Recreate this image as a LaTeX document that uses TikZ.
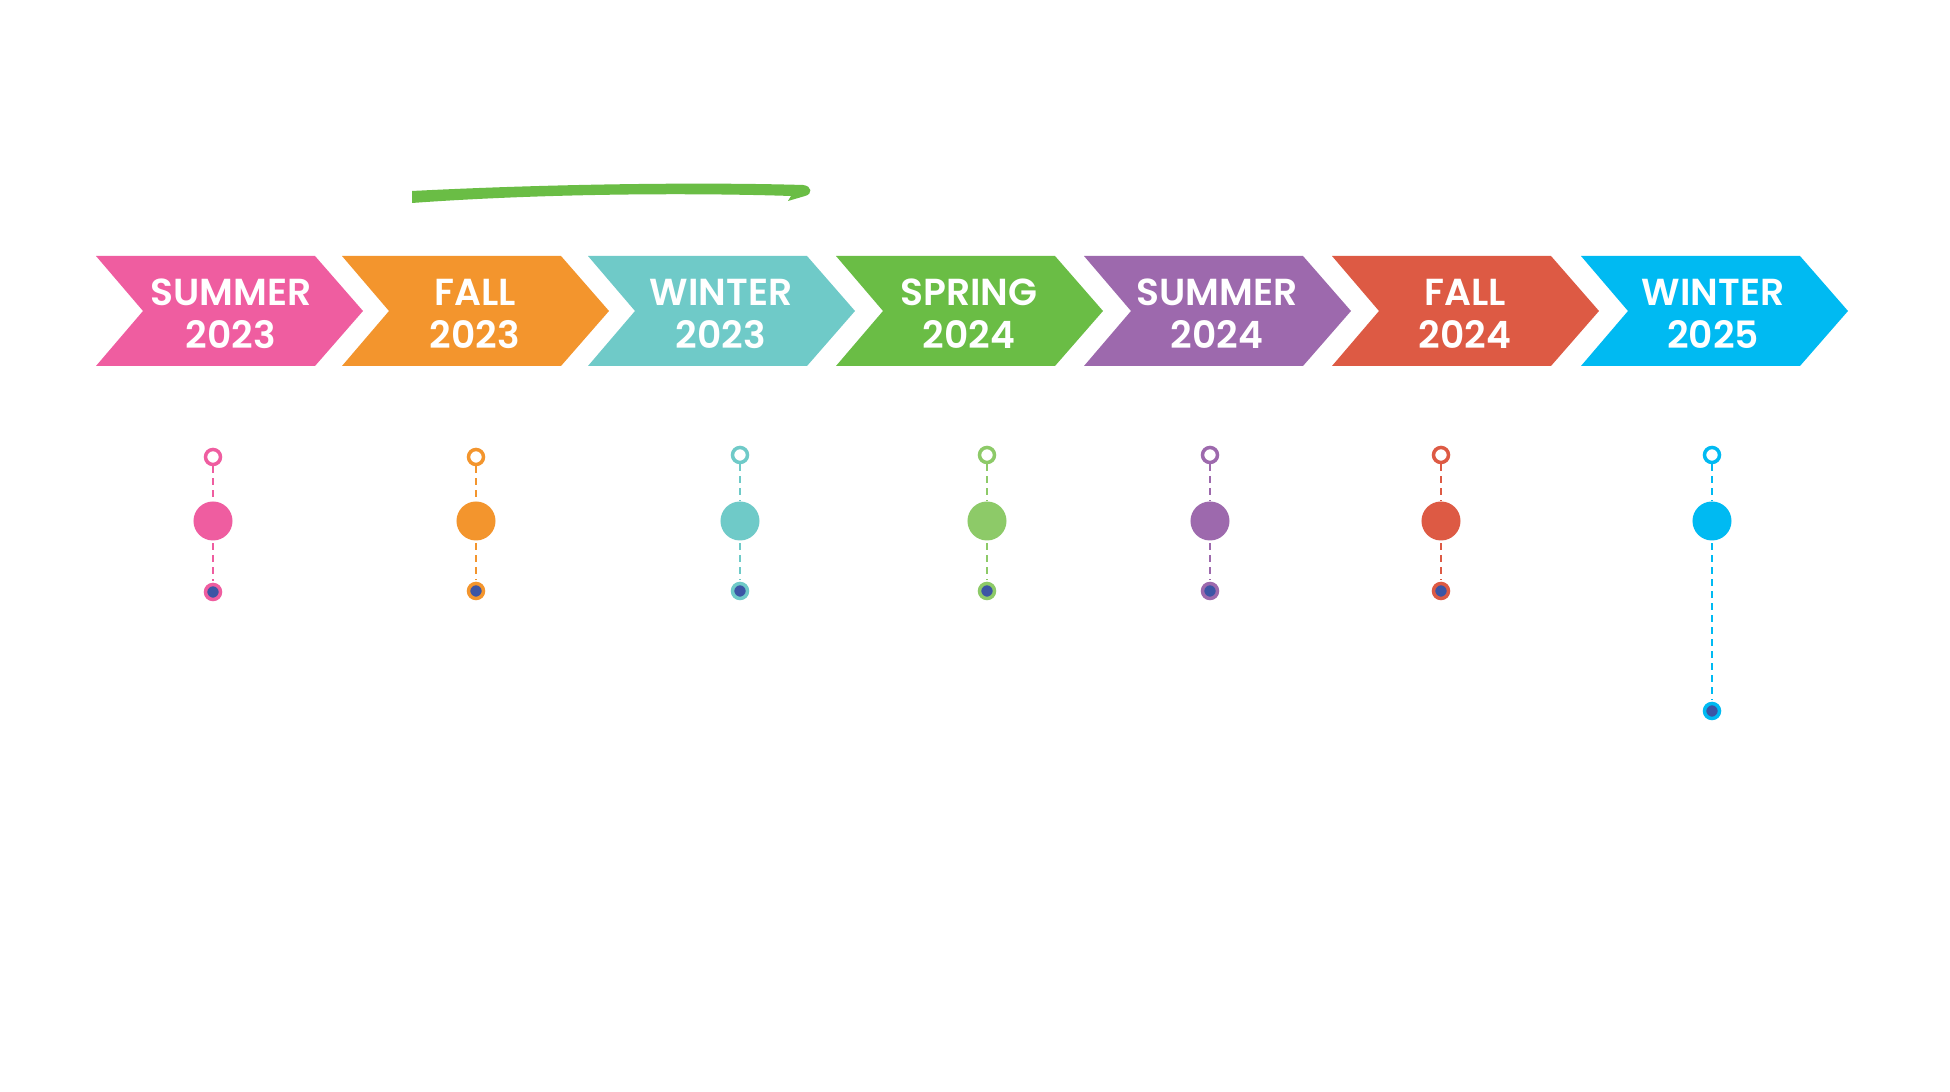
\documentclass[tikz,border=0pt]{standalone}
\usepackage{fontspec}
\IfFontExistsTF{Poppins SemiBold}
  {\setmainfont{Poppins}[BoldFont={Poppins SemiBold}]}
  {\setmainfont{Poppins}}

\definecolor{pinkc}{HTML}{EF5DA0}
\definecolor{orangec}{HTML}{F3952D}
\definecolor{tealc}{HTML}{6FCAC8}
\definecolor{greenc}{HTML}{6ABD45}
\definecolor{greenl}{HTML}{8DCA68}
\definecolor{purplec}{HTML}{9D69AD}
\definecolor{redc}{HTML}{DD5A44}
\definecolor{bluec}{HTML}{00BAF2}
\definecolor{dotblue}{HTML}{3C55A5}

\begin{document}
\begin{tikzpicture}[x=0.01cm,y=-0.01cm,
  season/.style={font=\bfseries\fontsize{10.7}{12.2}\selectfont,text=white,align=center,inner sep=0pt},
  ring/.style={circle,draw=#1,line width=0.035cm,fill=white,minimum size=0.15cm,inner sep=0pt},
  blob/.style={circle,fill=#1,minimum size=0.39cm,inner sep=0pt},
  knot/.style={circle,draw=#1,line width=0.035cm,fill=dotblue,minimum size=0.15cm,inner sep=0pt},
  link/.style={draw=#1,line width=0.023cm,dash pattern=on 0.07cm off 0.05cm,shorten <=0.02cm,shorten >=0.02cm}]
\useasboundingbox (0,0) rectangle (1950,1092);
\fill[white] (0,0) rectangle (1950,1092);
% brush stroke
\fill[greenc] (412,191) .. controls (550,184) and (700,182) .. (803,185)
  .. controls (812,186) and (813,194) .. (805,196)
  -- (788,201) -- (791,196)
  .. controls (700,193) and (550,193) .. (412,203) -- cycle;
% chevrons
\fill[pinkc] (96,256) -- (315,256) -- (363,311) -- (315,366) -- (96,366) -- (143,311) -- cycle;
\fill[orangec] (342,256) -- (561,256) -- (609,311) -- (561,366) -- (342,366) -- (389,311) -- cycle;
\fill[tealc] (588,256) -- (807,256) -- (855,311) -- (807,366) -- (588,366) -- (635,311) -- cycle;
\fill[greenc] (836,256) -- (1055,256) -- (1103,311) -- (1055,366) -- (836,366) -- (883,311) -- cycle;
\fill[purplec] (1084,256) -- (1303,256) -- (1351,311) -- (1303,366) -- (1084,366) -- (1131,311) -- cycle;
\fill[redc] (1332,256) -- (1551,256) -- (1599,311) -- (1551,366) -- (1332,366) -- (1379,311) -- cycle;
\fill[bluec] (1581,256) -- (1800,256) -- (1848,311) -- (1800,366) -- (1581,366) -- (1628,311) -- cycle;
\node[season] (t1) at (231,314) {SUMMER\\2023};
\node[season] (t2) at (475,314) {FALL\\2023};
\node[season] (t3) at (721,314) {WINTER\\2023};
\node[season] (t4) at (969,314) {SPRING\\2024};
\node[season] (t5) at (1217,314) {SUMMER\\2024};
\node[season] (t6) at (1465,314) {FALL\\2024};
\node[season] (t7) at (1713,314) {WINTER\\2025};
% markers
\node[ring=pinkc] (o1) at (213,457) {};
\node[ring=orangec] (o2) at (476,457) {};
\node[ring=tealc] (o3) at (740,455) {};
\node[ring=greenl] (o4) at (987,455) {};
\node[ring=purplec] (o5) at (1210,455) {};
\node[ring=redc] (o6) at (1441,455) {};
\node[ring=bluec] (o7) at (1712,455) {};
\node[blob=pinkc] (c1) at (213,521) {};
\node[blob=orangec] (c2) at (476,521) {};
\node[blob=tealc] (c3) at (740,521) {};
\node[blob=greenl] (c4) at (987,521) {};
\node[blob=purplec] (c5) at (1210,521) {};
\node[blob=redc] (c6) at (1441,521) {};
\node[blob=bluec] (c7) at (1712,521) {};
\node[knot=pinkc] (k1) at (213,592) {};
\node[knot=orangec] (k2) at (476,591) {};
\node[knot=tealc] (k3) at (740,591) {};
\node[knot=greenl] (k4) at (987,591) {};
\node[knot=purplec] (k5) at (1210,591) {};
\node[knot=redc] (k6) at (1441,591) {};
\node[knot=bluec] (k7) at (1712,711) {};
\path[link=pinkc] (o1) -- (c1) (c1) -- (k1);
\path[link=orangec] (o2) -- (c2) (c2) -- (k2);
\path[link=tealc] (o3) -- (c3) (c3) -- (k3);
\path[link=greenl] (o4) -- (c4) (c4) -- (k4);
\path[link=purplec] (o5) -- (c5) (c5) -- (k5);
\path[link=redc] (o6) -- (c6) (c6) -- (k6);
\path[link=bluec] (o7) -- (c7) (c7) -- (k7);
\end{tikzpicture}
\end{document}
